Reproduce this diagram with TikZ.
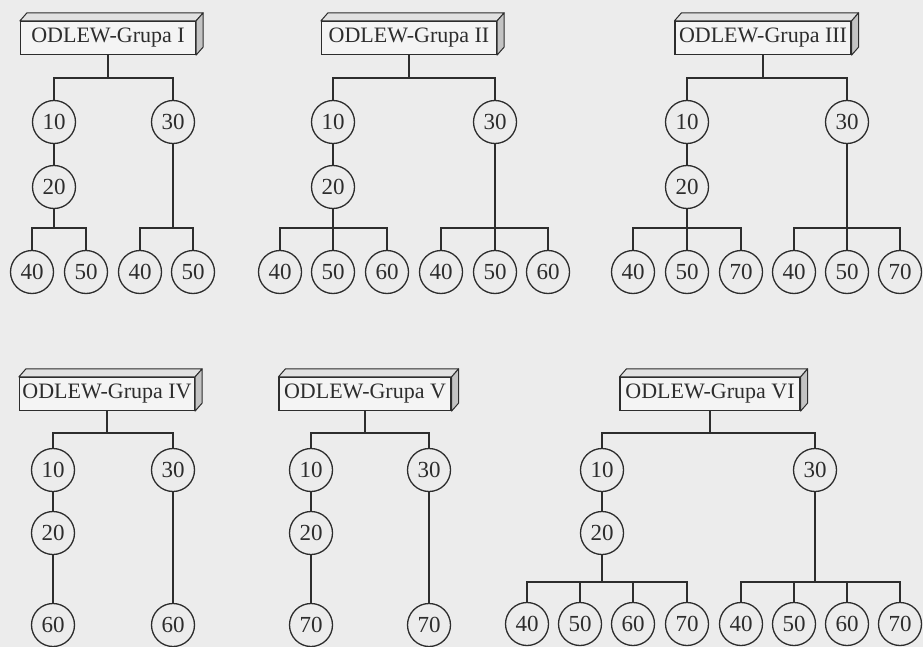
\documentclass[tikz,border=0pt]{standalone}
\usepackage{fontspec}
\setmainfont{Liberation Serif}
\definecolor{paper}{RGB}{236,236,236}
\definecolor{ink}{RGB}{45,45,45}
\definecolor{frontface}{RGB}{244,244,244}
\definecolor{topface}{RGB}{225,225,225}
\definecolor{sideface}{RGB}{195,195,195}
% parent node, child node, coordinate giving the height of the bar
\newcommand\treelink[3]{\draw[link] (#1.south) |- (#2.north |- #3) -- (#2.north);}
\begin{document}
\begin{tikzpicture}[x=1pt,y=-1pt,
  num/.style={circle, draw=ink, line width=1.3pt, minimum size=43pt, inner sep=0pt,
    font=\fontsize{23}{26}\selectfont, text=ink},
  grp/.style={draw=ink, line width=1.2pt, fill=frontface, minimum height=33pt,
    inner sep=0pt, font=\fontsize{22}{25}\selectfont, text=ink},
  link/.style={draw=ink, line width=1.3pt},
  face/.style={draw=ink, line width=1pt, line join=round}]
\fill[paper] (0,0) rectangle (923,647);
\useasboundingbox (0,0) rectangle (923,647);

% heights of the horizontal bars
\coordinate (barA) at (0,78);
\coordinate (barB) at (0,228);
\coordinate (barC) at (0,433);
\coordinate (barD) at (0,582);

% ---------- Grupa I ----------
\node[grp, minimum width=175pt] (g1) at (108,38) {ODLEW-Grupa I};
\node[num] (g1a) at (54,122) {10};
\node[num] (g1b) at (54,187) {20};
\node[num] (g1c) at (173,122) {30};
\node[num] (g1d) at (32,272) {40};
\node[num] (g1e) at (86,272) {50};
\node[num] (g1f) at (140,272) {40};
\node[num] (g1g) at (193,272) {50};

% ---------- Grupa II ----------
\node[grp, minimum width=175pt] (g2) at (409,38) {ODLEW-Grupa II};
\node[num] (g2a) at (333,122) {10};
\node[num] (g2b) at (333,187) {20};
\node[num] (g2c) at (495,122) {30};
\node[num] (g2d) at (280,272) {40};
\node[num] (g2e) at (333,272) {50};
\node[num] (g2f) at (387,272) {60};
\node[num] (g2g) at (441,272) {40};
\node[num] (g2h) at (495,272) {50};
\node[num] (g2i) at (548,272) {60};

% ---------- Grupa III ----------
\node[grp, minimum width=176pt] (g3) at (763,38) {ODLEW-Grupa III};
\node[num] (g3a) at (687,122) {10};
\node[num] (g3b) at (687,187) {20};
\node[num] (g3c) at (847,122) {30};
\node[num] (g3d) at (633,272) {40};
\node[num] (g3e) at (687,272) {50};
\node[num] (g3f) at (741,272) {70};
\node[num] (g3g) at (794,272) {40};
\node[num] (g3h) at (847,272) {50};
\node[num] (g3i) at (900,272) {70};

% ---------- Grupa IV ----------
\node[grp, minimum width=175pt] (g4) at (107,394) {ODLEW-Grupa IV};
\node[num] (g4a) at (53,470) {10};
\node[num] (g4b) at (53,533) {20};
\node[num] (g4c) at (173,470) {30};
\node[num] (g4d) at (53,625) {60};
\node[num] (g4e) at (173,625) {60};

% ---------- Grupa V ----------
\node[grp, minimum width=172pt] (g5) at (365,394) {ODLEW-Grupa V};
\node[num] (g5a) at (311,470) {10};
\node[num] (g5b) at (311,533) {20};
\node[num] (g5c) at (429,470) {30};
\node[num] (g5d) at (311,625) {70};
\node[num] (g5e) at (429,625) {70};

% ---------- Grupa VI ----------
\node[grp, minimum width=180pt] (g6) at (710,394) {ODLEW-Grupa VI};
\node[num] (g6a) at (602,470) {10};
\node[num] (g6b) at (602,533) {20};
\node[num] (g6c) at (815,470) {30};
\node[num] (g6d) at (527,624) {40};
\node[num] (g6e) at (580,624) {50};
\node[num] (g6f) at (633,624) {60};
\node[num] (g6g) at (687,624) {70};
\node[num] (g6h) at (741,624) {40};
\node[num] (g6i) at (794,624) {50};
\node[num] (g6j) at (847,624) {60};
\node[num] (g6k) at (900,624) {70};

% raised edges of the group boxes
\foreach \b in {g1,g2,g3,g4,g5,g6}{
  \filldraw[face, fill=topface] (\b.north west) -- ([xshift=7pt,yshift=8pt]\b.north west)
    -- ([xshift=7pt,yshift=8pt]\b.north east) -- (\b.north east) -- cycle;
  \filldraw[face, fill=sideface] (\b.north east) -- ([xshift=7pt,yshift=8pt]\b.north east)
    -- ([xshift=7pt,yshift=8pt]\b.south east) -- (\b.south east) -- cycle;
}

% connectors: box -> 10 / 30
\foreach \g in {g1,g2,g3}{
  \treelink{\g}{\g a}{barA}
  \treelink{\g}{\g c}{barA}
  \draw[link] (\g a) -- (\g b);
}
\foreach \g in {g4,g5,g6}{
  \treelink{\g}{\g a}{barC}
  \treelink{\g}{\g c}{barC}
  \draw[link] (\g a) -- (\g b);
}

% Grupa I
\treelink{g1b}{g1d}{barB}
\treelink{g1b}{g1e}{barB}
\treelink{g1c}{g1f}{barB}
\treelink{g1c}{g1g}{barB}

% Grupa II
\foreach \c in {d,e,f}{\treelink{g2b}{g2\c}{barB}}
\foreach \c in {g,h,i}{\treelink{g2c}{g2\c}{barB}}

% Grupa III
\foreach \c in {d,e,f}{\treelink{g3b}{g3\c}{barB}}
\foreach \c in {g,h,i}{\treelink{g3c}{g3\c}{barB}}

% Grupa IV and V
\draw[link] (g4b) -- (g4d);
\draw[link] (g4c) -- (g4e);
\draw[link] (g5b) -- (g5d);
\draw[link] (g5c) -- (g5e);

% Grupa VI
\foreach \c in {d,e,f,g}{\treelink{g6b}{g6\c}{barD}}
\foreach \c in {h,i,j,k}{\treelink{g6c}{g6\c}{barD}}
\end{tikzpicture}
\end{document}
